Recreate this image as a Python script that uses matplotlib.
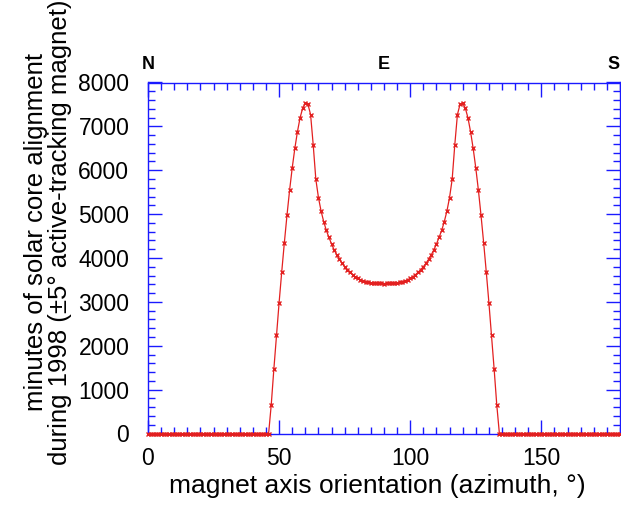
import matplotlib
matplotlib.use("Agg")
import matplotlib.pyplot as plt
from matplotlib.ticker import MultipleLocator

azimuth = list(range(0, 181))
minutes = (
    [0] * 47 +
    [656, 1470, 2240, 2985, 3684, 4350, 4972, 5546, 6054, 6500,
     6882, 7198, 7418, 7524, 7502, 7270, 6582, 5796, 5378, 5071,
     4831, 4630, 4470, 4318, 4185, 4070, 3970, 3879, 3801, 3733,
     3674, 3619, 3573, 3537, 3505, 3480, 3460, 3448, 3438, 3430,
     3425, 3421, 3419, 3418,
     3419, 3421, 3425, 3430, 3438, 3448, 3460, 3480, 3505, 3537,
     3573, 3619, 3674, 3733, 3801, 3879, 3970, 4070, 4185, 4318,
     4470, 4630, 4831, 5071, 5378, 5796, 6582, 7270, 7502, 7524,
     7418, 7198, 6882, 6500, 6054, 5546, 4972, 4350, 3684, 2985,
     2240, 1470, 656] +
    [0] * 47
)
compass_labels = ["N", "E", "S"]
compass_pos = [0, 90, 180]

plt.rcParams['font.family'] = ['Liberation Sans', 'DejaVu Sans']

fig = plt.figure(figsize=(6.21, 5.05), dpi=100)
ax = fig.add_axes([148 / 621, (505 - 433.5) / 505, (620 - 148) / 621, (433.5 - 82.5) / 505])

ax.plot(azimuth, minutes, color='#e32020', lw=0.9, marker='x', ms=3.2, mew=1.0,
        clip_on=False, zorder=3)

ax.set_xlim(0, 180)
ax.set_ylim(0, 8000)
ax.xaxis.set_major_locator(MultipleLocator(50))
ax.xaxis.set_minor_locator(MultipleLocator(5))
ax.yaxis.set_major_locator(MultipleLocator(1000))
ax.yaxis.set_minor_locator(MultipleLocator(200))

blue = '#1a1aff'
for sp in ax.spines.values():
    sp.set_color(blue)
    sp.set_linewidth(1.0)
ax.tick_params(which='both', direction='in', color=blue, top=True, right=True,
               labelsize=16.5, width=1.0)
ax.tick_params(which='major', length=10)
ax.tick_params(which='minor', length=5)
ax.tick_params(axis='x', which='major', pad=10)
ax.tick_params(axis='y', which='major', pad=13.5)

ax.set_xlabel("magnet axis orientation (azimuth, \u00b0)", fontsize=19)
ax.xaxis.set_label_coords(0.486, -0.115)
ax.set_ylabel("minutes of solar core alignment\nduring 1998 (\u00b15\u00b0 active-tracking magnet)",
              fontsize=18.5, linespacing=1.0)
ax.yaxis.set_label_coords(-0.161, 0.574)

for lab, pos, ha in zip(compass_labels, compass_pos, ['center', 'center', 'right']):
    ax.text(pos, 1.027, lab, transform=ax.get_xaxis_transform(), ha=ha, va='bottom',
            fontsize=13, fontweight='bold')

fig.savefig("out.png", dpi=100)
